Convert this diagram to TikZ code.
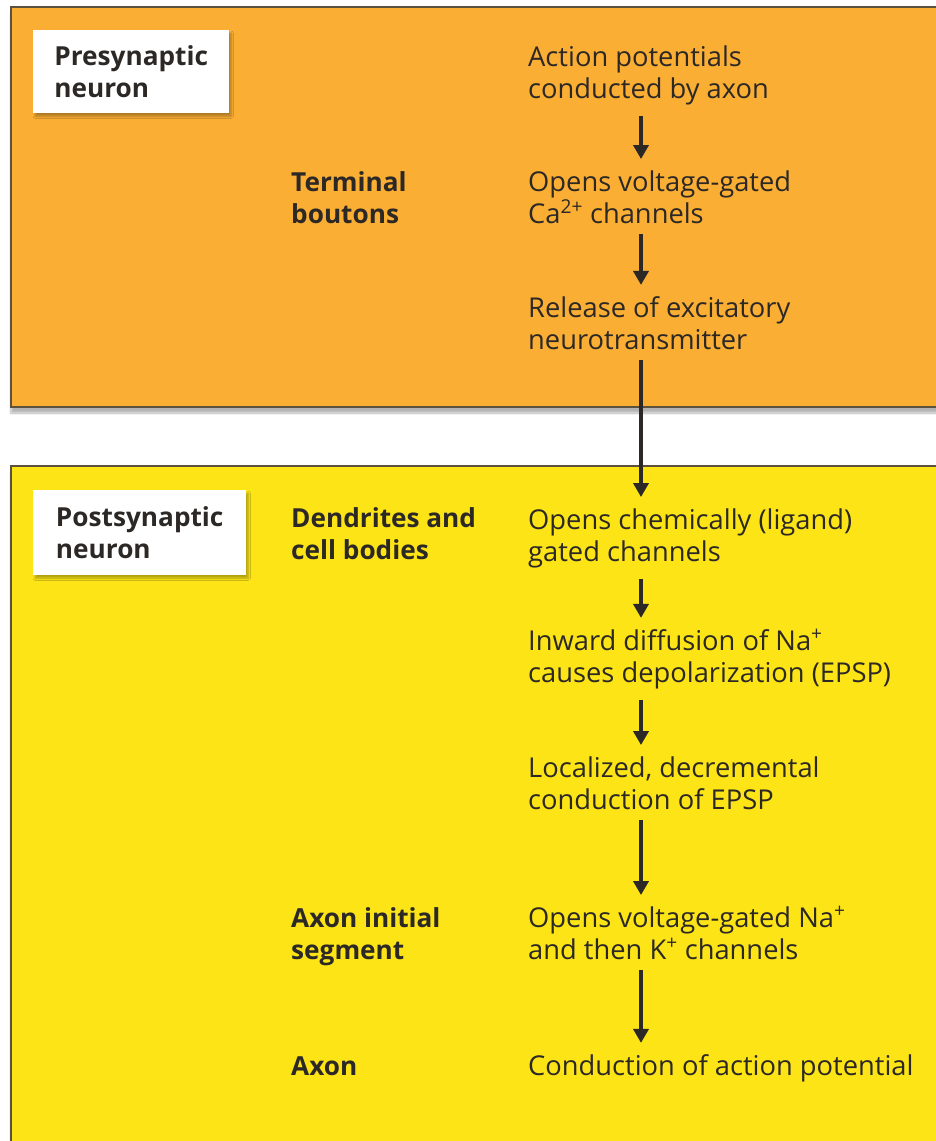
\documentclass[tikz,border=0pt]{standalone}
\usepackage{fontspec}
\setmainfont{Open Sans}
\usepackage{tikz}
\usetikzlibrary{arrows.meta, positioning, calc, shadows.blur}
\definecolor{preColor}{RGB}{250,174,52}
\definecolor{postColor}{RGB}{252,228,22}
\definecolor{inkColor}{RGB}{44,40,38}
\definecolor{edgeColor}{RGB}{92,80,62}

\begin{document}
\begin{tikzpicture}[
        x=1pt, y=-1pt,
        panel/.style={draw=edgeColor, line width=1.3pt, blur shadow={shadow xshift=0pt, shadow yshift=-6pt, shadow blur steps=8, shadow opacity=30}},
        tag/.style={fill=white, anchor=north west, align=left, inner sep=0pt, font=\fontsize{26.2}{32}\selectfont\bfseries, text=inkColor, blur shadow={shadow xshift=2pt, shadow yshift=-3pt, shadow blur steps=6, shadow opacity=30}},
        part/.style={anchor=base west, align=left, inner sep=0pt, font=\fontsize{26.2}{32}\selectfont\bfseries, text=inkColor},
        stepbox/.style={anchor=base west, align=left, inner xsep=0pt, inner ysep=11pt, font=\fontsize{27.3}{32}\selectfont, text=inkColor},
        flow/.style={-{Triangle[length=14pt, width=15pt]}, line width=3.6pt, draw=inkColor}
    ]
        \useasboundingbox (0,0) rectangle (936,1141);
        \clip (0,0) rectangle (936,1141);
        \coordinate (axis) at (641,0);

        % Presynaptic panel
        \draw[panel, fill=preColor] (11,7) rectangle (960,407);
        \node[tag, minimum width=196pt, minimum height=83pt] (pre) at (33,30) {Presynaptic\\neuron};
        \node[part] (term) at (291,223) {Terminal\\boutons};
        \node[stepbox] (act) at (528,98) {Action potentials\\conducted by axon};
        \node[stepbox] (ca) at (528,223) {Opens voltage-gated\\Ca\textsuperscript{2+} channels};
        \node[stepbox] (rel) at (528,349) {Release of excitatory\\neurotransmitter};

        % Postsynaptic panel
        \draw[panel, fill=postColor] (11,466) rectangle (960,1170);
        \node[tag, minimum width=213pt, minimum height=85pt] (post) at (33,490) {Postsynaptic\\neuron};
        \node[part] (dend) at (291,559) {Dendrites and\\cell bodies};
        \node[part] (ais) at (291,959) {Axon initial\\segment};
        \node[part] (axon) at (291,1075) {Axon};
        \node[stepbox] (lig) at (528,561) {Opens chemically (ligand)\\gated channels};
        \node[stepbox] (na) at (528,682) {Inward diffusion of Na\textsuperscript{+}\\causes depolarization (EPSP)};
        \node[stepbox] (loc) at (528,809) {Localized, decremental\\conduction of EPSP};
        \node[stepbox] (vg) at (528,959) {Opens voltage-gated Na\textsuperscript{+}\\and then K\textsuperscript{+} channels};
        \node[stepbox] (cond) at (528,1075) {Conduction of action potential};

        % Sequence of events
        \draw[flow] (act.south -| axis) -- (ca.north -| axis);
        \draw[flow] (ca.south -| axis) -- (rel.north -| axis);
        \draw[flow] (rel.south -| axis) -- (lig.north -| axis);
        \draw[flow] (lig.south -| axis) -- (na.north -| axis);
        \draw[flow] (na.south -| axis) -- (loc.north -| axis);
        \draw[flow] (loc.south -| axis) -- (vg.north -| axis);
        \draw[flow] (vg.south -| axis) -- (cond.north -| axis);
    \end{tikzpicture}
\end{document}
